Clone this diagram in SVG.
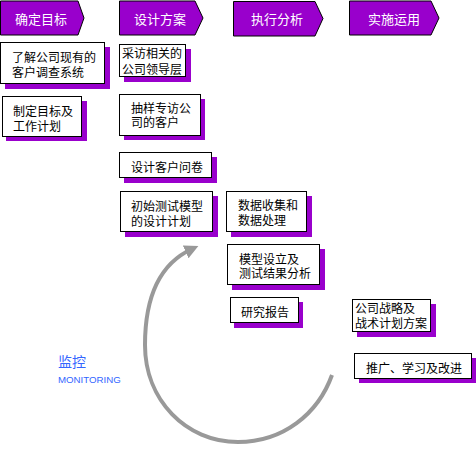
<svg xmlns="http://www.w3.org/2000/svg" width="476" height="451" viewBox="0 0 476 451">
<style>
.hdr{fill:#9900CC;stroke:#000;stroke-width:1}
.htx{fill:#fff;font-family:"Liberation Sans","Noto Sans CJK SC",sans-serif;font-size:13px;text-anchor:middle}
.box{fill:#fff;stroke:#000;stroke-width:1}
.shd{fill:#9900CC}
.tx{fill:#000;font-family:"Liberation Sans","Noto Sans CJK SC",sans-serif;font-size:12px}
.mon{fill:#3366FF;font-family:"Liberation Sans","Noto Sans CJK SC",sans-serif}
</style>
<defs>
<marker id="ah" viewBox="0 0 10 10" refX="5" refY="5" markerWidth="3.5" markerHeight="3.5" orient="auto" markerUnits="strokeWidth">
<path d="M0,0 L10,5 L0,10 z" fill="#999999"/>
</marker>
</defs>
<rect width="476" height="451" fill="#fff"/>
<g id="h1"><polygon class="hdr" points="0.5,1 78,1 84,18 78,35 0.5,35"/><text class="htx" x="41" y="23.5">确定目标</text></g>
<g id="h2"><polygon class="hdr" points="119.5,1 195,1 203,18 195,35 119.5,35"/><text class="htx" x="160" y="23.5">设计方案</text></g>
<g id="h3"><polygon class="hdr" points="233.5,1.5 315,1.5 323,18.5 315,36 233.5,36"/><text class="htx" x="277" y="24">执行分析</text></g>
<g id="h4"><polygon class="hdr" points="349.5,1 431,1 439,18 431,35 349.5,35"/><text class="htx" x="394" y="23.5">实施运用</text></g>

<g id="n1"><rect class="shd" x="5" y="47" width="105" height="42"/><rect class="box" x="0.5" y="42.5" width="104" height="41"/><text class="tx" x="12" y="61.5">了解公司现有的</text><text class="tx" x="12" y="77">客户调查系统</text></g>
<g id="n2"><rect class="shd" x="6" y="101" width="81" height="40"/><rect class="box" x="2.5" y="96.5" width="79" height="40"/><text class="tx" x="13" y="115.5">制定目标及</text><text class="tx" x="13" y="130.5">工作计划</text></g>
<g id="n3"><rect class="shd" x="124" y="49" width="67" height="33"/><rect class="box" x="119.5" y="44.5" width="66" height="32"/><text class="tx" x="122" y="57.5">采访相关的</text><text class="tx" x="122" y="73.5">公司领导层</text></g>
<g id="n4"><rect class="shd" x="124" y="99" width="81" height="41"/><rect class="box" x="119.5" y="94.5" width="81" height="41"/><text class="tx" x="131" y="112.5">抽样专访公</text><text class="tx" x="131" y="127">司的客户</text></g>
<g id="n5"><rect class="shd" x="124" y="157" width="93" height="26"/><rect class="box" x="119.5" y="152.5" width="92" height="25"/><text class="tx" x="131" y="171.5">设计客户问卷</text></g>
<g id="n6"><rect class="shd" x="125" y="196" width="93" height="41"/><rect class="box" x="120.5" y="191.5" width="92" height="40"/><text class="tx" x="131" y="210.5">初始测试模型</text><text class="tx" x="131" y="225.5">的设计计划</text></g>
<g id="n7"><rect class="shd" x="231" y="196" width="81" height="41"/><rect class="box" x="226.5" y="191.5" width="80" height="40"/><text class="tx" x="238" y="209.5">数据收集和</text><text class="tx" x="238" y="224.5">数据处理</text></g>
<g id="n8"><rect class="shd" x="232" y="249" width="93" height="41"/><rect class="box" x="227.5" y="244.5" width="92" height="40"/><text class="tx" x="239" y="263.5">模型设立及</text><text class="tx" x="239" y="277.5">测试结果分析</text></g>
<g id="n9"><rect class="shd" x="234" y="302" width="69" height="26"/><rect class="box" x="230.5" y="297.5" width="68" height="25"/><text class="tx" x="241" y="316.5">研究报告</text></g>
<g id="n10"><rect class="shd" x="357" y="304" width="79" height="33"/><rect class="box" x="352.5" y="299.5" width="78" height="32"/><text class="tx" x="355" y="312.5">公司战略及</text><text class="tx" x="355" y="327.5">战术计划方案</text></g>
<g id="n11"><rect class="shd" x="359" y="358" width="117" height="25"/><rect class="box" x="354.5" y="353.5" width="117" height="25"/><text class="tx" x="366" y="372.5">推广、学习及改进</text></g>

<g id="connectors">
<path d="M332,375 C318,414 283,442 238,442 C186,442 145,400 145,345 C145,297 159,264 192,249" fill="none" stroke="#999999" stroke-width="4" marker-end="url(#ah)"/>
</g>
<g id="monitor">
<text class="mon" x="58" y="367" font-size="14">监控</text>
<text class="mon" x="58" y="382.5" font-size="9.7">MONITORING</text>
</g>
</svg>
